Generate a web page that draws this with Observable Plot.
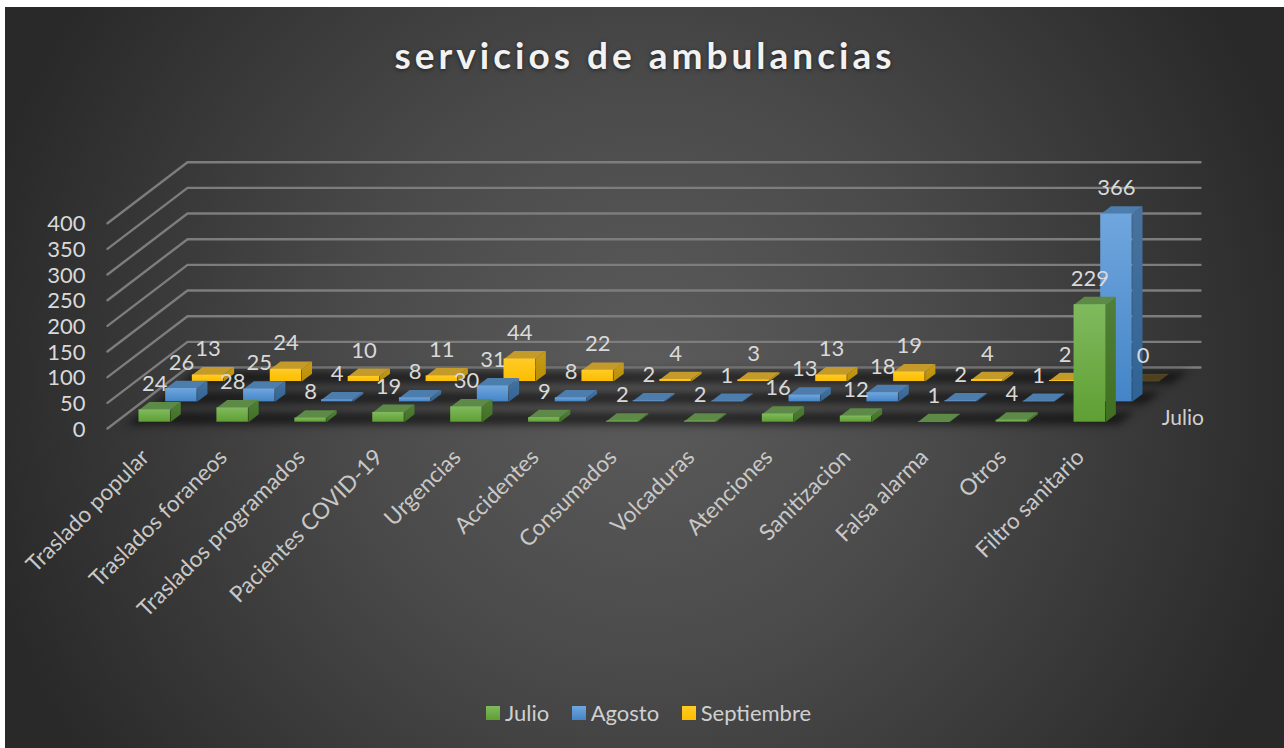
<!DOCTYPE html>
<html lang="es">
<head>
<meta charset="utf-8">
<title>servicios de ambulancias</title>
<script src="https://cdn.jsdelivr.net/npm/d3@7"></script>
<script src="https://cdn.jsdelivr.net/npm/@observablehq/plot@0.6"></script>
<style>
  html, body { margin: 0; padding: 0; background: #fff; }
  body { width: 1284px; height: 748px; overflow: hidden; font-family: Lato, "Open Sans", sans-serif; }
  #panel {
    position: absolute; left: 5px; top: 7px; width: 1279px; height: 741px; overflow: hidden;
    background: radial-gradient(circle at 50% 50%, #5c5c5c 0%, #4a4a4a 40%, #292929 92%);
  }
  #title {
    position: absolute; left: 2px; top: 25px; width: 1276px; text-align: center;
    font: 700 37px Lato, sans-serif; letter-spacing: 4px; color: #f2f2f2;
    text-shadow: 0 1px 4px rgba(0,0,0,.55);
  }
  #chart { position: absolute; left: -5px; top: 93px; }
  #chart svg { display: block; background: transparent; }
  #legend {
    position: absolute; top: 692px; left: 481px; display: flex; align-items: center;
    font: 400 22px Lato, sans-serif; color: #d0d0d0;
  }
  #legend span.k { display: inline-block; width: 14px; height: 14px; margin-right: 5px; }
  #legend span.item { display: inline-flex; align-items: center; margin-right: 22.5px; }
</style>
</head>
<body>
<div id="panel">
  <div id="title">servicios de ambulancias</div>
  <div id="chart"></div>
  <div id="legend"></div>
</div>
<script>
const categories = ["Traslado popular","Traslados foraneos","Traslados programados","Pacientes COVID-19","Urgencias","Accidentes","Consumados","Volcaduras","Atenciones","Sanitizacion","Falsa alarma","Otros","Filtro sanitario"];
const seriesNames = ["Julio","Agosto","Septiembre"];
const julio      = [24,28,8,19,30,9,2,2,16,12,1,4,229];
const agosto     = [26,25,4,8,31,8,2,1,13,18,2,1,366];
const septiembre = [13,24,10,11,44,22,4,3,13,19,4,2,0];
const seriesValues = [julio, agosto, septiembre];
const valueTicks = [0,50,100,150,200,250,300,350,400];

// palettes: [front top, front bottom, side top, side bottom, roof]
const palette = [
  ["#80ba5e","#5f9f33","#517f3a","#3f7020","#5d8a47"],
  ["#70a6de","#4485c7","#49739e","#2f6395","#4d7dac"],
  ["#ffcb26","#fdbd00","#c79c1c","#b98e00","#c49a2b"]
];

// oblique projection, in data units: one depth row moves a point this far along x and y
const DX = 0.3423, DY = 39.6;
const barLeft = 0.298, barRight = 0.702, rowFront = 0.31, rowBack = 0.696;
const px = (c, d) => c + d * DX;
const py = (v, d) => v + d * DY;
const nCat = categories.length, nRow = seriesNames.length;

function poly(id, corners) {
  return corners.map(([c, d, v]) => ({id, x: px(c, d), y: py(v, d)}));
}

const bars = [];
seriesValues.forEach((vals, r) => vals.forEach((v, i) => bars.push({i, r, v})));

const grid = valueTicks.flatMap(v => [
  {v, x: px(0, 0), y: py(v, 0)},
  {v, x: px(0, nRow), y: py(v, nRow)},
  {v, x: px(nCat, nRow), y: py(v, nRow)}
]);
const floor = poly("f", [[0.1,0.05,0],[nCat-0.05,0.05,0],[nCat-0.05,nRow-0.02,0],[0.1,nRow-0.02,0]]);
const bands = seriesNames.flatMap((_, r) =>
  poly("b" + r, [[0.18,r+0.2,0],[nCat-0.1,r+0.2,0],[nCat-0.1,r+0.8,0],[0.18,r+0.8,0]]));

function faces(r) {
  const row = bars.filter(b => b.r === r);
  const base = {x: "x", y: "y", z: "id", stroke: "none"};
  const roofOf = row.filter(b => b.v > 0), flat = row.filter(b => b.v === 0);
  const roofPts = bs => bs.flatMap(b => poly(b.i, [
    [b.i+barLeft, r+rowFront, b.v],[b.i+barRight, r+rowFront, b.v],
    [b.i+barRight, r+rowBack, b.v],[b.i+barLeft, r+rowBack, b.v]]));
  const sidePts = roofOf.flatMap(b => poly(b.i, [
    [b.i+barRight, r+rowFront, 0],[b.i+barRight, r+rowBack, 0],
    [b.i+barRight, r+rowBack, b.v],[b.i+barRight, r+rowFront, b.v]]));
  return [
    Plot.line(sidePts, {...base, fill: `url(#side${r})`}),
    Plot.line(roofPts(roofOf), {...base, fill: palette[r][4]}),
    Plot.line(roofPts(flat), {...base, fill: palette[r][4], fillOpacity: 0.3}),
    Plot.rectY(roofOf, {
      x1: b => px(b.i+barLeft, r+rowFront), x2: b => px(b.i+barRight, r+rowFront),
      y1: () => py(0, r+rowFront), y2: b => py(b.v, r+rowFront),
      fill: `url(#front${r})`
    })
  ];
}

const defs = () => {
  const d = d3.create("svg:defs");
  const grad = (id, a, b) => {
    const g = d.append("linearGradient").attr("id", id).attr("x1",0).attr("y1",0).attr("x2",0).attr("y2",1);
    g.append("stop").attr("offset","0").attr("stop-color",a);
    g.append("stop").attr("offset","1").attr("stop-color",b);
  };
  palette.forEach((p, r) => { grad("front"+r, p[0], p[1]); grad("side"+r, p[2], p[3]); });
  return d.node();
};

const plot = Plot.plot({
  width: 1284, height: 597,
  marginLeft: 107, marginRight: 84, marginTop: 61.7, marginBottom: 269,
  x: {domain: [0, px(nCat, nRow)], axis: null},
  y: {domain: [0, py(400, nRow)], axis: null},
  style: {background: "transparent", color: "#d9d9d9", fontFamily: "Lato, sans-serif"},
  marks: [
    defs,
    Plot.line(grid, {x: "x", y: "y", z: "v", stroke: "#7d7d7d", strokeWidth: 2.4, curve: "linear"}),
    Plot.line(floor, {x: "x", y: "y", z: "id", fill: "#000", fillOpacity: 0.08, stroke: "none", imageFilter: "blur(4px)"}),
    Plot.line(bands, {x: "x", y: "y", z: "id", fill: "#000", fillOpacity: 0.5, stroke: "none", imageFilter: "blur(3.5px)"}),
    ...faces(2), ...faces(1), ...faces(0),
    Plot.axisY({ticks: valueTicks, tickSize: 0, tickPadding: 22, dy: 1, fontSize: 22, color: "#d9d9d9", label: null, anchor: "left"}),
    Plot.text(categories, {
      x: (_, i) => i + 0.5, y: () => 0, text: d => d,
      rotate: -45, textAnchor: "end", lineAnchor: "middle", dx: -1, dy: 25, fontSize: 22.5, fill: "#c8c8c8"
    }),
    Plot.text(bars, {
      x: b => px(b.i + 0.5, b.r + rowFront), y: b => py(b.v, b.r + rowBack), text: b => String(b.v),
      dy: -18, textAnchor: "middle", lineAnchor: "middle", fontSize: 22, fill: "#d9d9d9"
    }),
    Plot.text([seriesNames[0]], {
      x: () => px(nCat, 0.5), y: () => py(0, 0.5), text: d => d, dx: 49, textAnchor: "middle", fontSize: 21, fill: "#d0d0d0"
    })
  ]
});
document.getElementById("chart").append(plot);

const legend = d3.select("#legend");
seriesNames.forEach((name, r) => {
  const it = legend.append("span").attr("class", "item");
  it.append("span").attr("class", "k").style("background", `linear-gradient(${palette[r][0]}, ${palette[r][1]})`);
  it.append("span").text(name);
});
</script>
</body>
</html>
